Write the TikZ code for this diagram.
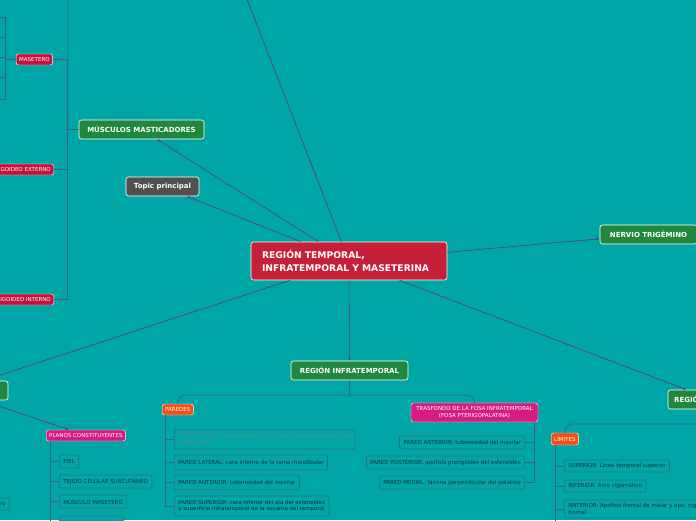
\documentclass[tikz,border=0pt]{standalone}
\usepackage{fontspec}
\setmainfont{DejaVu Sans}
\usetikzlibrary{positioning, arrows.meta}
\definecolor{fondo}{RGB}{0,166,166}
\definecolor{rojo}{RGB}{198,32,56}
\definecolor{verde}{RGB}{32,136,60}
\definecolor{gris}{RGB}{80,80,80}
\definecolor{carmin}{RGB}{196,18,58}
\definecolor{naranja}{RGB}{246,78,22}
\definecolor{rosa}{RGB}{214,28,126}
\definecolor{morado}{RGB}{104,48,124}
\definecolor{linea}{RGB}{66,92,136}
\definecolor{borde}{RGB}{44,110,134}
\definecolor{oscuro}{RGB}{18,46,62}
\definecolor{apagado}{RGB}{96,136,148}

\begin{document}
\begin{tikzpicture}[x=1pt, y=-1pt,
    box/.style={draw=white, line width=0.6pt, rounded corners=2.5pt, text=white, inner sep=0pt},
    main/.style={box, fill=rojo, font=\bfseries\fontsize{9.2}{13}\selectfont},
    topic/.style={box, fill=verde, font=\bfseries\fontsize{7}{8}\selectfont, minimum height=19pt},
    tag/.style={box, fill=carmin, line width=0.4pt, font=\fontsize{5.5}{6.8}\selectfont, minimum height=11pt, inner xsep=3pt},
    leaf/.style={draw=borde, line width=0.7pt, rounded corners=2pt, fill=fondo, text=oscuro, font=\fontsize{5.5}{6.6}\selectfont, inner xsep=4pt, inner ysep=0pt, align=left},
    rama/.style={draw=morado, line width=0.6pt, -{Latex[length=3pt,width=2.5pt]}},
    tree/.style={draw=linea, line width=0.7pt}]
    \useasboundingbox (0,0) rectangle (696,520);
    \fill[fondo] (0,0) rectangle (696,520);
    \clip (0,0) rectangle (696,520);

    % main topics
    \node[main, minimum width=196pt, minimum height=38pt, text width=174pt, align=left] (c) at (349,261) {REGIÓN TEMPORAL,\\INFRATEMPORAL Y MASETERINA};
    \node[topic, minimum width=125pt] (mm) at (141.5,129.5) {MÚSCULOS MASTICADORES};
    \node[topic, fill=gris, minimum width=73pt] (tp) at (162.5,186.5) {Topic principal};
    \node[topic, minimum width=97pt] (nt) at (648.5,234.5) {NERVIO TRIGÉMINO};
    \node[topic, minimum width=117pt] (ri) at (349.5,370.5) {REGIÓN INFRATEMPORAL};
    \node[topic, minimum width=88pt] (rt) at (712,399.5) {REGIÓN TEMPORAL};
    \node[topic, minimum width=110pt] (rm) at (-47,390.5) {REGIÓN MASETERINA};
    \coordinate (arriba) at (245,-6);

    % subtopics
    \node[tag, anchor=west] (ms) at (16,59.5) {MASETERO};
    \node[tag, anchor=east] (pe) at (54,169.5) {PTERIGOIDEO EXTERNO};
    \node[tag, anchor=east] (pi) at (54,299.5) {PTERIGOIDEO INTERNO};
    \node[tag, fill=naranja, anchor=west] (pr) at (162,409.5) {PAREDES};
    \node[tag, fill=rosa, minimum width=127pt, minimum height=19pt, align=center] (tf) at (474.5,412.5) {TRASFONDO DE LA FOSA INFRATEMPORAL\\(FOSA PTERIGOPALATINA)};
    \node[tag, fill=naranja, anchor=west, minimum height=12pt] (li) at (551,439) {LÍMITES};
    \node[tag, fill=rosa, anchor=west] (pc) at (46,435.5) {PLANOS CONSTITUYENTES};

    % leaves
    \node[leaf, anchor=west, minimum height=19pt, text=apagado] (pr1) at (174,439.5) {PARED MEDIAL: contralateral de la lámina lateral de la apófisis\\pterigoides};
    \node[leaf, anchor=west, minimum height=15pt] (pr2) at (174,462.5) {PARED LATERAL: cara interna de la rama mandibular};
    \node[leaf, anchor=west, minimum height=15pt] (pr3) at (174,482.5) {PARED ANTERIOR: tuberosidad del maxilar};
    \node[leaf, anchor=west, minimum height=20pt] (pr4) at (174,506) {PARED SUPERIOR: cara inferior del ala del esfenoides\\y superficie infratemporal de la escama del temporal};
    \node[leaf, anchor=east, minimum height=13pt] (tf1) at (525,442.5) {PARED ANTERIOR: tuberosidad del maxilar};
    \node[leaf, anchor=east, minimum height=13pt] (tf2) at (525,462.5) {PARED POSTERIOR: apófisis pterigoides del esfenoides};
    \node[leaf, anchor=east, minimum height=13pt] (tf3) at (525,482.5) {PARED MEDIAL: lámina perpendicular del palatino};
    \node[leaf, anchor=west, minimum height=12pt] (li1) at (564,466) {SUPERIOR: Línea temporal superior};
    \node[leaf, anchor=west, minimum height=12pt] (li2) at (564,486) {INFERIOR: Arco cigomático};
    \node[leaf, anchor=west, minimum height=18pt] (li3) at (564,509) {ANTERIOR: Apófisis frontal de malar y apo. cigomática del\\frontal};
    \node[leaf, anchor=west, minimum height=13pt] (pc1) at (59,461.5) {PIEL};
    \node[leaf, anchor=west, minimum height=13pt] (pc2) at (59,481.5) {TEJIDO CELULAR SUBCUTÁNEO};
    \node[leaf, anchor=west, minimum height=13pt] (pc3) at (59,501.5) {MÚSCULO MASETERO};
    \node[leaf, anchor=west, minimum width=64pt, minimum height=13pt] (pc4) at (59,522.5) {};
    \node[leaf, anchor=east, minimum height=12pt] (mx) at (10,504) {Masetero};

    % branches from the centre
    \draw[rama] (c) -- (arriba);
    \draw[rama] (c) -- (mm);
    \draw[rama] (c) -- (tp);
    \draw[rama] (c) -- (nt);
    \draw[rama] (c) -- (ri);
    \draw[rama] (c) -- (rt);
    \draw[rama] (c) -- (rm);
    \draw[rama] (rm) -- (pc);

    % trees
    \draw[tree] (mm.west) -- ++(-11,0) coordinate (mmx);
    \draw[tree] (mmx) -- (68,-5);
    \foreach \n in {ms,pe,pi} \draw[tree] (mmx) |- (\n.east);
    \draw[tree] (ms.west) -- ++(-11,0) coordinate (msx);
    \foreach \y in {17,37,57,77,99} \draw[tree] (msx) |- (-2,\y);

    \coordinate (rj) at (349.5,395);
    \draw[tree] (ri.south) -- (rj);
    \draw[tree, rounded corners=8pt] (pr.north) |- (rj) -| (tf.north);
    \foreach \n in {pr1,pr2,pr3,pr4} \draw[tree] ([xshift=3pt]pr.south west) |- (\n.west);
    \foreach \n in {tf1,tf2,tf3} \draw[tree] ([xshift=-4pt]tf.south east) |- (\n.east);

    \draw[tree, rounded corners=8pt] (rt.south) |- (600,424) -| (li.north);
    \foreach \n in {li1,li2,li3} \draw[tree] ([xshift=4pt]li.south west) |- (\n.west);
    \draw[tree] ([xshift=4pt]li.south west) -- (555,525);
    \foreach \n in {pc1,pc2,pc3,pc4} \draw[tree] ([xshift=4pt]pc.south west) |- (\n.west);
\end{tikzpicture}
\end{document}
